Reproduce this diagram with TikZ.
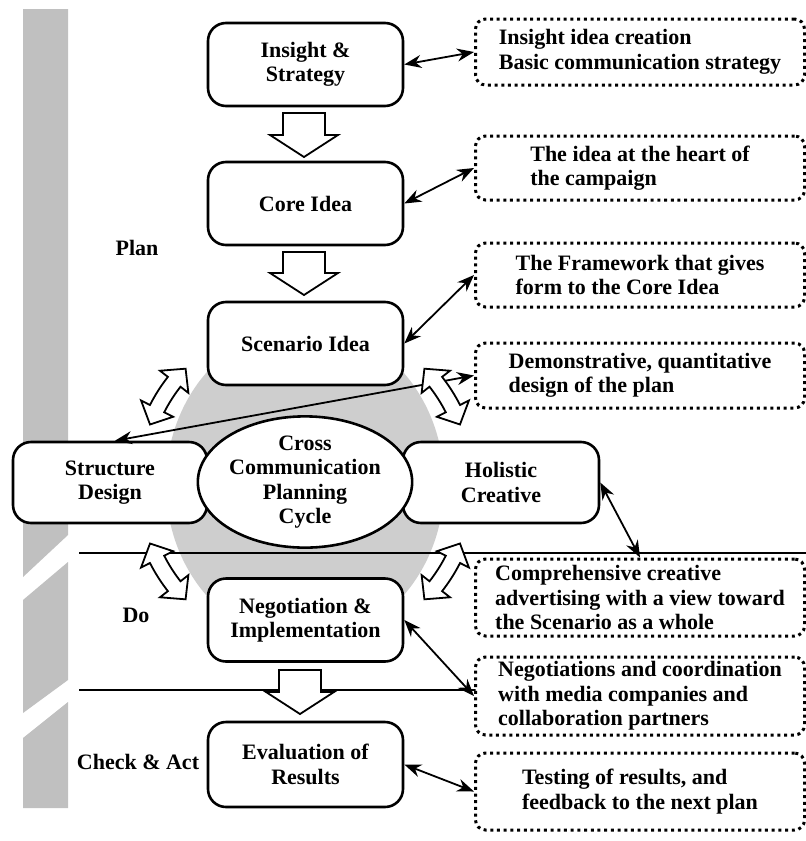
\documentclass[tikz,border=0pt]{standalone}
\usepackage{fontspec}
\setmainfont{Liberation Serif}
\usetikzlibrary{arrows.meta,shapes.geometric}
\definecolor{bargray}{RGB}{192,192,192}
\definecolor{circgray}{RGB}{206,206,206}
\newcommand{\arcCX}{305}
\newcommand{\arcCY}{484}
\newcommand{\arcR}{166}
\newcommand{\myblockarc}[1]{%
 \pgfmathsetmacro{\myaA}{#1-11.5}\pgfmathsetmacro{\myaB}{#1+11.5}%
 \pgfmathsetmacro{\mydA}{#1-5.5}\pgfmathsetmacro{\mydB}{#1+5.5}%
 \filldraw[blockarrow] ({\arcCX+\arcR*cos(\myaA)},{\arcCY+\arcR*sin(\myaA)})
  -- ({\arcCX+(\arcR+18)*cos(\mydA)},{\arcCY+(\arcR+18)*sin(\mydA)})
  -- ({\arcCX+(\arcR+8)*cos(\mydA)},{\arcCY+(\arcR+8)*sin(\mydA)})
  -- plot[domain=\mydA:\mydB,samples=12] ({\arcCX+(\arcR+8)*cos(\x)},{\arcCY+(\arcR+8)*sin(\x)})
  -- ({\arcCX+(\arcR+18)*cos(\mydB)},{\arcCY+(\arcR+18)*sin(\mydB)})
  -- ({\arcCX+\arcR*cos(\myaB)},{\arcCY+\arcR*sin(\myaB)})
  -- ({\arcCX+(\arcR-18)*cos(\mydB)},{\arcCY+(\arcR-18)*sin(\mydB)})
  -- ({\arcCX+(\arcR-8)*cos(\mydB)},{\arcCY+(\arcR-8)*sin(\mydB)})
  -- plot[domain=\mydB:\mydA,samples=12] ({\arcCX+(\arcR-8)*cos(\x)},{\arcCY+(\arcR-8)*sin(\x)})
  -- ({\arcCX+(\arcR-18)*cos(\mydA)},{\arcCY+(\arcR-18)*sin(\mydA)})
  -- cycle;}
\newcommand{\mydownarrow}[4]{% cx, shaft top, head base, tip
 \filldraw[blockarrow] ({#1-21},#2) -- ({#1+21},#2) -- ({#1+21},#3) -- ({#1+34},#3)
  -- (#1,#4) -- ({#1-34},#3) -- ({#1-21},#3) -- cycle;}
\begin{document}
\begin{tikzpicture}[x=1pt,y=-1pt,
  font=\fontsize{22}{24.5}\selectfont\bfseries,
  solidbox/.style={draw, line width=2.6pt, rounded corners=18pt, fill=white,
    minimum width=195pt, minimum height=83pt, align=center, inner sep=0pt},
  dotbox/.style={draw, line width=3pt, dash pattern=on 3pt off 3.7pt,
    rounded corners=10pt, fill=white, minimum width=329pt, align=left, inner sep=0pt},
  conn/.style={line width=1.8pt, {Stealth[length=17pt,width=13pt]}-{Stealth[length=17pt,width=13pt]}},
  divider/.style={line width=1.8pt},
  blockarrow/.style={fill=white, draw=black, line width=1.8pt, line join=miter},
  phase/.style={inner sep=0pt}]
\useasboundingbox (0,0) rectangle (806,841);
\fill[white] (0,0) rectangle (806,841);
% phase bar
\fill[bargray] (23,9) -- (68,9) -- (68,535) -- (23,577) -- cycle;
\fill[bargray] (23,600) -- (68,562) -- (68,680) -- (23,713) -- cycle;
\fill[bargray] (23,738) -- (68,702) -- (68,808) -- (23,808) -- cycle;
% gray disc
\fill[circgray] (305,484) ellipse[x radius=139, y radius=158];
% dividers
\coordinate (l1a) at (79,553); \coordinate (l1b) at (806,553);
\coordinate (l2a) at (79,690); \coordinate (l2b) at (806,690);
\draw[divider] (l1a) -- (l1b);
\draw[divider] (l2a) -- (l2b);
% phase labels
\node[phase] (plan) at (137,248) {Plan};
\node[phase] (do) at (136,615) {Do};
\node[phase] (check) at (138,762) {Check \& Act};
% main boxes
\node[solidbox] (ins) at (305.5,64.5) {Insight \&\\Strategy};
\node[solidbox] (core) at (305.5,203.5) {Core Idea};
\node[solidbox] (scen) at (305.5,343.5) {Scenario Idea};
\node[solidbox, minimum width=194pt, minimum height=81pt] (struct) at (110,482.5) {Structure\\Design};
\node[solidbox, minimum width=196pt, minimum height=81pt] (hol) at (501,482.5) {Holistic\\Creative};
\node[solidbox] (neg) at (305.5,620) {Negotiation \&\\Implementation};
\node[solidbox, minimum height=85pt] (eval) at (305.5,764.5) {Evaluation of\\Results};
\node[draw, ellipse, line width=2.6pt, fill=white, minimum width=175pt, minimum height=110pt,
  inner sep=0pt, align=center] (cycle) at (305,482) {Cross\\Communication\\Planning\\Cycle};
% dotted description boxes
\node[dotbox, minimum height=66pt] (dA) at (640,52) {Insight idea creation\\Basic communication strategy};
\node[dotbox, minimum height=64pt] (dB) at (640,168) {The idea at the heart of\\the campaign};
\node[dotbox, minimum height=64pt] (dC) at (640,275) {The Framework that gives\\form to the Core Idea};
\node[dotbox, minimum height=65pt] (dD) at (640,375.5) {Demonstrative, quantitative\\design of the plan};
\node[dotbox, minimum height=77pt] (dE) at (640,597.5) {Comprehensive creative\\advertising with a view toward\\the Scenario as a whole};
\node[dotbox, minimum height=78pt] (dF) at (640,696) {Negotiations and coordination\\with media companies and\\collaboration partners};
\node[dotbox, minimum height=77pt] (dG) at (640,791.5) {Testing of results, and\\feedback to the next plan};
% connectors
\draw[conn] (ins.east) -- (dA.west);
\draw[conn] (core.east) -- (dB.west);
\draw[conn] (scen.east) -- (dC.west);
\draw[conn] ([xshift=5pt]struct.north) -- (dD.west);
\draw[conn] (hol.east) -- (dE.north);
\draw[conn] (neg.east) -- (dF.west);
\draw[conn] (eval.east) -- (dG.west);
% hollow down arrows
\mydownarrow{304}{113}{135}{157}
\mydownarrow{304}{252}{273}{295}
\mydownarrow{300}{670}{692}{714}
% curved double block arrows around the disc
\myblockarc{212.5}
\myblockarc{327.5}
\myblockarc{147.5}
\myblockarc{32.5}
\end{tikzpicture}
\end{document}
